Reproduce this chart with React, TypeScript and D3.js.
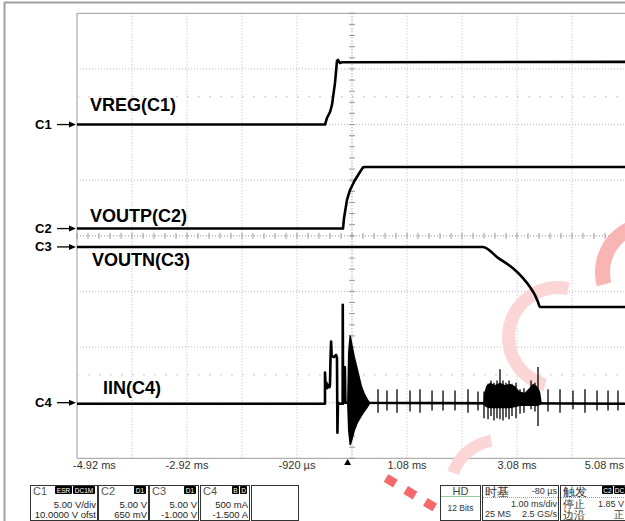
import * as d3 from "d3";

type Pt = [number, number];
type Env = [number, number, number];

// time axis (ms), 1 ms/div, 10 divisions
const timeDomain: [number, number] = [-4.92, 5.08];
const timeTicks = [-4.92, -2.92, -0.92, 1.08, 3.08, 5.08];
const timeTickLabels = ["-4.92 ms", "-2.92 ms", "-920 µs", "1.08 ms", "3.08 ms", "5.08 ms"];
const triggerTime = 0;
const centerTime = 0.08;

// channel settings
const channelIds = ["C1", "C2", "C3", "C4"];
const channelNames = ["VREG(C1)", "VOUTP(C2)", "VOUTN(C3)", "IIN(C4)"];
const channelPerDiv = [5, 5, 5, 0.5];
const channelOffset = [10, 0.65, -1, -1.5];

// C1 VREG (V)
const c1Wave: Pt[] = [
  [-4.92, 0], [-0.41, 0], [-0.375, 0.59], [-0.32, 1.13], [-0.284, 1.76], [-0.229, 3.74],
  [-0.193, 5.72], [-0.175, 5.81], [-0.138, 5.54], [-0.1, 5.6], [5.08, 5.63],
];
// C2 VOUTP (V)
const c2Wave: Pt[] = [
  [-4.92, 0], [-0.084, 0], [-0.065, 0.95], [-0.011, 2.57], [0.044, 3.47], [0.135, 4.37],
  [0.225, 5.09], [0.28, 5.5], [0.316, 5.54], [5.08, 5.54],
];
// C3 VOUTN (V)
const c3Wave: Pt[] = [
  [-4.92, 0], [2.462, 0], [2.735, -0.98], [3.007, -1.92], [3.189, -2.8], [3.316, -3.6],
  [3.407, -4.33], [3.462, -4.96], [3.498, -5.4], [5.08, -5.4],
];
// C4 IIN (A) main trace
const c4Wave: Pt[] = [
  [-4.92, -0.01], [-0.411, -0.01], [-0.411, 0.27], [-0.4, 0.15], [-0.385, 0.18], [-0.37, 0.13],
  [-0.35, 0.16], [-0.33, 0.14], [-0.32, 0.16], [-0.31, 0.41], [-0.3, 0.55], [-0.29, 0.42],
  [-0.25, 0.41], [-0.21, 0.43], [-0.193, 0.4], [-0.185, -0.27], [-0.175, 0], [-0.14, -0.01],
  [-0.09, -0.01], [-0.088, 0.88], [-0.082, -0.01], [-0.07, 0.31], [-0.05, 0.32], [-0.04, 0],
  [5.08, -0.01],
];
// C4 ringing envelopes [t, max, min]
const c4Burst1: Env[] = [
  [-0.01, 0, -0.01], [0.007, 0.45, -0.25], [0.035, 0.61, -0.38], [0.062, 0.6, -0.38],
  [0.098, 0.5, -0.32], [0.135, 0.41, -0.25], [0.19, 0.3, -0.18], [0.262, 0.15, -0.12],
  [0.316, 0.08, -0.08], [0.371, 0.03, -0.04], [0.41, 0, -0.01],
];
const c4Burst2: Env[] = [
  [2.47, 0, -0.01], [2.48, 0.08, -0.02], [2.52, 0.15, -0.04], [2.59, 0.18, -0.05], [2.68, 0.16, -0.05],
  [2.77, 0.18, -0.05], [2.86, 0.16, -0.05], [2.95, 0.17, -0.05], [3.04, 0.15, -0.04],
  [3.13, 0.1, -0.03], [3.22, 0.09, -0.03], [3.3, 0.13, -0.03], [3.37, 0.17, -0.03],
  [3.44, 0.15, -0.03], [3.5, 0.1, -0.02], [3.53, 0, -0.01],
];
// C4 single spikes [t, max, min]
const c4Spikes: Env[] = [
  [0.553, 0.12, -0.09], [0.716, 0.11, -0.07], [0.898, 0.12, -0.09], [1.135, 0.11, -0.08],
  [1.316, 0.12, -0.09], [1.535, 0.11, -0.07], [1.735, 0.11, -0.07], [1.953, 0.11, -0.07],
  [2.189, 0.12, -0.09], [2.371, 0.1, -0.07],
  [2.48, 0.1, -0.14], [2.553, 0.17, -0.15], [2.607, 0.2, -0.12], [2.662, 0.18, -0.16],
  [2.716, 0.2, -0.14], [2.771, 0.3, -0.15], [2.825, 0.2, -0.16], [2.88, 0.18, -0.13],
  [2.935, 0.2, -0.15], [2.989, 0.17, -0.12], [3.062, 0.18, -0.14], [3.135, 0.12, -0.1],
  [3.207, 0.13, -0.09], [3.335, 0.2, -0.06], [3.407, 0.18, -0.08], [3.462, 0.32, -0.21],
  [3.644, 0.12, -0.08], [3.862, 0.12, -0.09], [4.098, 0.11, -0.06], [4.316, 0.12, -0.09],
  [4.535, 0.11, -0.07], [4.735, 0.11, -0.07], [4.916, 0.11, -0.07],
];

// info boxes
const chBoxBadges = [["ESR", "DC1M"], ["D1"], ["D1"], ["B", "D"]];
const chBoxLine1 = ["5.00 V/div", "5.00 V", "5.00 V", "500 mA"];
const chBoxLine2 = ["10.0000 V ofst", "650 mV", "-1.000 V", "-1.500 A"];

const W = 625;
const H = 521;
const plot = { left: 77, right: 627, top: 13.3, bottom: 458.3 };
const font = "'Liberation Sans', Arial, sans-serif";

export default function App() {
  const x = d3.scaleLinear().domain(timeDomain).range([plot.left, plot.right]);
  const yDiv = d3.scaleLinear().domain([-4, 4]).range([plot.bottom, plot.top]);
  const chY = (i: number) => (v: number) => yDiv((v + channelOffset[i]) / channelPerDiv[i]);
  const waves = [c1Wave, c2Wave, c3Wave, c4Wave];
  const c4y = chY(3);

  const lineFor = (i: number) => {
    const l = d3.line<Pt>().x((d) => x(d[0])).y((d) => chY(i)(d[1]));
    return i === 2 ? l.curve(d3.curveMonotoneX) : l;
  };
  const area = d3
    .area<Env>()
    .x((d) => x(d[0]))
    .y0((d) => c4y(d[2]))
    .y1((d) => c4y(d[1]));

  const vLines = d3.range(11).map((i) => timeDomain[0] + i);
  const hLines = d3.range(-4, 5);
  const xc = x(centerTime);
  const yc = yDiv(0);
  const minorX = d3.range(-25, 26).map((k) => xc + (k * (x(1) - x(0))) / 5);
  const minorY = d3.range(-20, 21).map((k) => yDiv(k / 5));

  const nameX = [90, 90, 92, 103];
  const nameDy = [-14, -7, 19, -9];

  const boxX = [30, 98, 149, 200];
  const boxW = [67, 50, 49, 49];
  const boxTop = 485;
  const rad = Math.PI / 180;

  return (
    <svg
      width={W}
      height={H}
      style={{ position: "absolute", left: 0, top: 0, background: "#fff" }}
      fontFamily={font}
    >
      {/* outer frame */}
      <line x1={4.5} x2={4.5} y1={2} y2={H} stroke="#a0a0a0" strokeWidth={2} />
      <line x1={4} x2={W} y1={2.5} y2={2.5} stroke="#a0a0a0" strokeWidth={2} />

      {/* grid */}
      {vLines.map((t, i) => (
        <line
          key={"v" + i}
          x1={x(t)}
          x2={x(t)}
          y1={plot.top}
          y2={plot.bottom}
          stroke={i === 0 ? "#9a9a9a" : "#b8b8b8"}
          strokeWidth={1}
          strokeDasharray={i === 0 ? undefined : "1,2"}
        />
      ))}
      {hLines.map((d) => (
        <line
          key={"h" + d}
          x1={plot.left}
          x2={plot.right}
          y1={yDiv(d)}
          y2={yDiv(d)}
          stroke={Math.abs(d) === 4 ? "#9a9a9a" : "#b8b8b8"}
          strokeWidth={1}
          strokeDasharray={Math.abs(d) === 4 ? undefined : "1,2"}
        />
      ))}
      {[2.5, -2.5].map((d) => (
        <line
          key={"r" + d}
          x1={plot.left}
          x2={plot.right}
          y1={yDiv(d)}
          y2={yDiv(d)}
          stroke="#c8c8c8"
          strokeWidth={1}
          strokeDasharray="2,9"
        />
      ))}
      {/* centre cross minor ticks */}
      <line x1={xc} x2={xc} y1={plot.top} y2={plot.bottom} stroke="#b0b0b0" strokeDasharray="1,2" />
      <line x1={plot.left} x2={plot.right} y1={yc} y2={yc} stroke="#b0b0b0" strokeDasharray="1,2" />
      {minorX.map((mx, i) => (
        <line key={"mx" + i} x1={mx} x2={mx} y1={yc - 3} y2={yc + 3} stroke="#999" strokeWidth={1} />
      ))}
      {minorY.map((my, i) => (
        <line key={"my" + i} x1={xc - 3} x2={xc + 3} y1={my} y2={my} stroke="#999" strokeWidth={1} />
      ))}

      {/* watermark */}
      <g>
        <path
          transform="translate(558,337)"
          d={d3.arc()({ innerRadius: 43, outerRadius: 56, startAngle: 195 * rad, endAngle: 372 * rad }) || ""}
          fill="#fcd6d6"
        />
        <path
          transform="translate(650,272)"
          d={d3.arc()({ innerRadius: 40, outerRadius: 55, startAngle: 255 * rad, endAngle: 350 * rad }) || ""}
          fill="#f9b4b4"
        />
        <path
          transform="translate(500,490)"
          d={d3.arc()({ innerRadius: 44, outerRadius: 56, startAngle: 290 * rad, endAngle: 350 * rad }) || ""}
          fill="#fcd6d6"
        />
        <line x1={386} y1={478} x2={462} y2={524} stroke="#f46a6a" strokeWidth={9} strokeDasharray="11,12" />
      </g>

      {/* traces */}
      {waves.map((w, i) => (
        <path
          key={"w" + i}
          d={lineFor(i)(w) || ""}
          fill="none"
          stroke="#000"
          strokeWidth={2.6}
          strokeLinejoin="round"
        />
      ))}
      <path d={area(c4Burst1) || ""} fill="#000" />
      <path d={area(c4Burst2) || ""} fill="#000" />
      {c4Spikes.map((s, i) => (
        <line key={"s" + i} x1={x(s[0])} x2={x(s[0])} y1={c4y(s[1])} y2={c4y(s[2])} stroke="#000" strokeWidth={1.3} />
      ))}

      {/* channel names and ground markers */}
      {channelIds.map((id, i) => {
        const gy = chY(i)(0);
        return (
          <g key={id}>
            <text x={nameX[i]} y={gy + nameDy[i]} fontSize={18} fontWeight="bold" fill="#000">
              {channelNames[i]}
            </text>
            <text x={35} y={gy + 4.5} fontSize={13} fontWeight="bold" fill="#000">
              {id}
            </text>
            <line x1={57} x2={71} y1={gy} y2={gy} stroke="#000" strokeWidth={1.3} />
            <path d={`M${76},${gy} L${69},${gy - 3} L${69},${gy + 3} Z`} fill="#000" />
          </g>
        );
      })}

      {/* time labels */}
      {timeTicks.map((t, i) => (
        <text
          key={"t" + i}
          x={i === 0 ? x(t) - 4 : i === timeTicks.length - 1 ? W - 1 : x(t)}
          y={469}
          fontSize={11}
          fill="#333"
          textAnchor={i === 0 ? "start" : i === timeTicks.length - 1 ? "end" : "middle"}
        >
          {timeTickLabels[i]}
        </text>
      ))}
      <path
        d={`M${x(triggerTime)},${459} L${x(triggerTime) - 3.5},${465} L${x(triggerTime) + 3.5},${465} Z`}
        fill="#000"
      />

      {/* channel info boxes */}
      {channelIds.map((id, i) => {
        let bx = boxX[i] + boxW[i] - 1;
        const badges = chBoxBadges[i].slice().reverse().map((b) => {
          const bw = b.length * 5 + 3;
          bx -= bw;
          return (
            <g key={b}>
              <rect x={bx} y={boxTop + 1} width={bw - 1} height={8} fill="#000" rx={1} />
              <text x={bx + (bw - 1) / 2} y={boxTop + 7.5} fontSize={6.5} fill="#fff" textAnchor="middle">
                {b}
              </text>
            </g>
          );
        });
        return (
          <g key={"box" + id}>
            <rect x={boxX[i] + 0.5} y={boxTop + 0.5} width={boxW[i]} height={35} fill="#fff" stroke="#333" />
            <text x={boxX[i] + 3} y={boxTop + 10} fontSize={11} fill="#555">
              {id}
            </text>
            {badges}
            <text x={boxX[i] + boxW[i] - 1} y={boxTop + 23} fontSize={9.5} fill="#222" textAnchor="end">
              {chBoxLine1[i]}
            </text>
            <text x={boxX[i] + boxW[i] - 1} y={boxTop + 33} fontSize={9.5} fill="#222" textAnchor="end">
              {chBoxLine2[i]}
            </text>
          </g>
        );
      })}
      <rect x={251.5} y={boxTop + 0.5} width={47} height={35} fill="#fff" stroke="#333" />

      {/* acquisition boxes */}
      <rect x={440.5} y={boxTop + 0.5} width={40} height={35} fill="#fff" stroke="#333" />
      <text x={460.5} y={boxTop + 10} fontSize={11} fill="#444" textAnchor="middle">HD</text>
      <line x1={441} x2={480} y1={boxTop + 11.5} y2={boxTop + 11.5} stroke="#9c9" strokeWidth={1} />
      <text x={460.5} y={boxTop + 26} fontSize={8.5} fill="#333" textAnchor="middle">12 Bits</text>

      <rect x={482.5} y={boxTop + 0.5} width={76} height={35} fill="#fff" stroke="#333" />
      <text x={485} y={boxTop + 11} fontSize={12} fill="#333">时基</text>
      <text x={557} y={boxTop + 9} fontSize={9} fill="#333" textAnchor="end">-80 µs</text>
      <line x1={483} x2={558} y1={boxTop + 12.5} y2={boxTop + 12.5} stroke="#999" strokeDasharray="1,1" />
      <text x={557} y={boxTop + 22} fontSize={9} fill="#333" textAnchor="end">1.00 ms/div</text>
      <text x={485} y={boxTop + 32} fontSize={9} fill="#333">25 MS</text>
      <text x={557} y={boxTop + 32} fontSize={9} fill="#333" textAnchor="end">2.5 GS/s</text>

      <rect x={560.5} y={boxTop + 0.5} width={80} height={35} fill="#fff" stroke="#333" />
      <text x={563} y={boxTop + 11} fontSize={12} fill="#333">触发</text>
      <rect x={602} y={boxTop + 1} width={11} height={8} fill="#000" rx={1} />
      <text x={607.5} y={boxTop + 7.5} fontSize={6.5} fill="#fff" textAnchor="middle">C2</text>
      <rect x={614} y={boxTop + 1} width={11} height={8} fill="#000" rx={1} />
      <text x={619.5} y={boxTop + 7.5} fontSize={6.5} fill="#fff" textAnchor="middle">DC</text>
      <line x1={561} x2={625} y1={boxTop + 12.5} y2={boxTop + 12.5} stroke="#999" strokeDasharray="1,1" />
      <text x={563} y={boxTop + 23} fontSize={11} fill="#333">停止</text>
      <text x={624} y={boxTop + 22} fontSize={9} fill="#333" textAnchor="end">1.85 V</text>
      <text x={563} y={boxTop + 34} fontSize={11} fill="#333">边沿</text>
      <text x={624} y={boxTop + 33} fontSize={10} fill="#333" textAnchor="end">正</text>
    </svg>
  );
}
